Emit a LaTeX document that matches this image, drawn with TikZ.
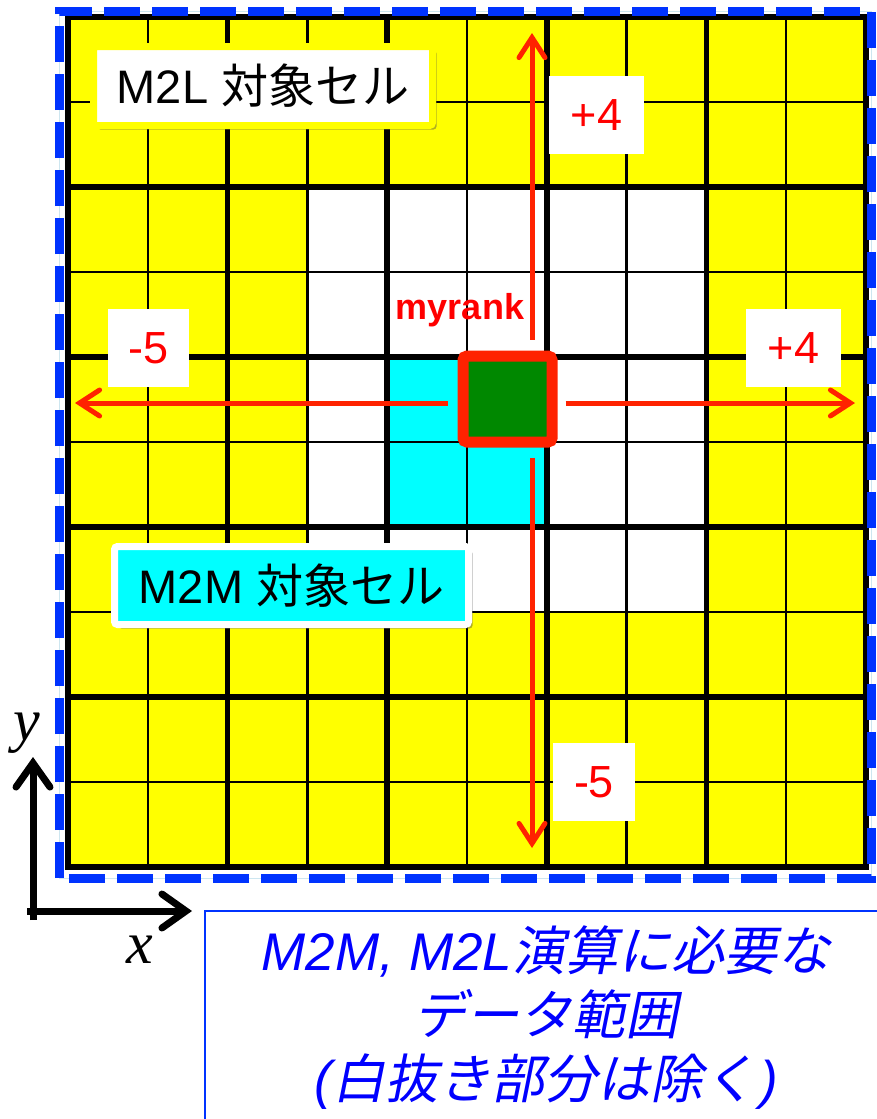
\documentclass[tikz,border=0pt]{standalone}
\usepackage{fontspec}
\setmainfont{Liberation Sans}
\newfontfamily\jp{Noto Sans CJK JP}
\newfontfamily\jpit[FakeSlant=0.2]{Noto Sans CJK JP}
\newfontfamily\serifit{Liberation Serif Italic}
\usetikzlibrary{arrows.meta,shadows,calc}
\definecolor{cyellow}{RGB}{255,255,0}
\definecolor{ccyan}{RGB}{0,255,255}
\definecolor{cgreen}{RGB}{0,136,0}
\definecolor{cred}{RGB}{255,34,0}
\definecolor{tred}{RGB}{255,0,0}
\definecolor{cblue}{RGB}{0,51,255}
\definecolor{ctext}{RGB}{0,0,255}
\definecolor{clight}{RGB}{205,230,240}
\tikzset{
  thingrid/.style={black, line width=2.5},
  thickgrid/.style={black, line width=5.5},
  redarrow/.style={cred, line width=5, -{Straight Barb[length=20pt,width=26pt,line cap=round]}},
  axisarrow/.style={black, line width=7, -{Straight Barb[length=24pt,width=34pt,line cap=round]}},
  numbox/.style={fill=white, text=tred, inner sep=0pt, minimum height=78, font=\fontsize{45}{50}\selectfont},
  celllabel/.style={line width=7, rounded corners=3, inner sep=0pt,
    font=\fontsize{47}{55}\selectfont,
    drop shadow={shadow xshift=4pt, shadow yshift=-4pt, opacity=0.45, fill=black!70}},
}
\begin{document}
\begin{tikzpicture}[x=1pt,y=-1pt]
\useasboundingbox (0,0) rectangle (877,1119);
\fill[white] (0,0) rectangle (877,1119);
% cells
\fill[cyellow] (68,17) rectangle (866,867);
\fill[white] (307.4,187) rectangle (706.6,612);
\fill[ccyan] (387.2,357) rectangle (547,527);
% grid
\foreach \i in {1,3,5,7,9} {
  \draw[thingrid] ({68+79.8*\i},17) -- ({68+79.8*\i},867);
  \draw[thingrid] (68,{17+85*\i}) -- (866,{17+85*\i});
}
\foreach \i in {0,2,4,6,8,10} {
  \draw[thickgrid] ({68+79.8*\i},17) -- ({68+79.8*\i},867);
  \draw[thickgrid] (68,{17+85*\i}) -- (866,{17+85*\i});
}
\draw[thickgrid, line width=6] (68,17) rectangle (866,867);
% blue dashed frame
\draw[clight, line width=1] (59,11) rectangle (871,878);
\draw[cblue, line width=9, dash pattern=on 36pt off 12pt] (59,878) -- (59,11) -- (871,11) -- (871,878) -- cycle;
% myrank cell
\node[draw=cred, fill=cgreen, line width=11, rounded corners=4, minimum width=89, minimum height=86, inner sep=0pt] (me) at (507.5,399) {};
% red arrows
\coordinate (ltip) at (75,403);
\coordinate (rtip) at (855,403);
\coordinate (ttip) at (532,33);
\coordinate (btip) at (532,848);
\draw[redarrow, shorten <=10pt] (me.west |- ltip) -- (ltip);
\draw[redarrow, shorten <=8pt] (me.east |- rtip) -- (rtip);
\draw[redarrow, shorten <=11pt] (me.north -| ttip) -- (ttip);
\draw[redarrow, shorten <=10pt] (me.south -| btip) -- (btip);
% number labels
\node[numbox, minimum width=95] (up) at (596.5,115) {+4};
\node[numbox, minimum width=81] (left) at (148.5,348) {-5};
\node[numbox, minimum width=95] (right) at (793.5,348) {+4};
\node[numbox, minimum width=82] (down) at (594,782) {-5};
\node[text=tred, font=\bfseries\fontsize{36}{40}\selectfont, inner sep=0pt] (myrank) at (460,310) {myrank};
% cell labels
\node[celllabel, draw=cyellow, fill=white, minimum width=339, minimum height=79] (m2l) at (263,86) {M2L {\jp 対象セル}};
\node[celllabel, draw=white, fill=ccyan, minimum width=354, minimum height=78] (m2m) at (291.5,585.5) {M2M {\jp 対象セル}};
% axes
\coordinate (org) at (33,911);
\coordinate (ytip) at (33,757);
\coordinate (xtip) at (192,911);
\draw[axisarrow] ($(org)+(0,9)$) -- (ytip);
\draw[axisarrow] ($(org)+(-6,0)$) -- (xtip);
\node[font=\serifit\fontsize{60}{60}\selectfont, inner sep=0pt] (ylab) at (27,733) {y};
\node[font=\serifit\fontsize{60}{60}\selectfont, inner sep=0pt] (xlab) at (140,950) {x};
% note box
\node[draw=cblue, line width=1.5, minimum width=700, minimum height=240, anchor=north west, inner sep=0pt] (notebox) at (204,910) {};
\node[align=center, text=ctext, font=\fontsize{53}{64}\selectfont, inner sep=0pt] (note) at (546,1018)
  {{\itshape M2M, M2L}{\jpit 演算に必要な}\\{\jpit データ範囲}\\{\itshape (}{\jpit 白抜き部分は除く}\kern4pt{\itshape )}};
\end{tikzpicture}
\end{document}
